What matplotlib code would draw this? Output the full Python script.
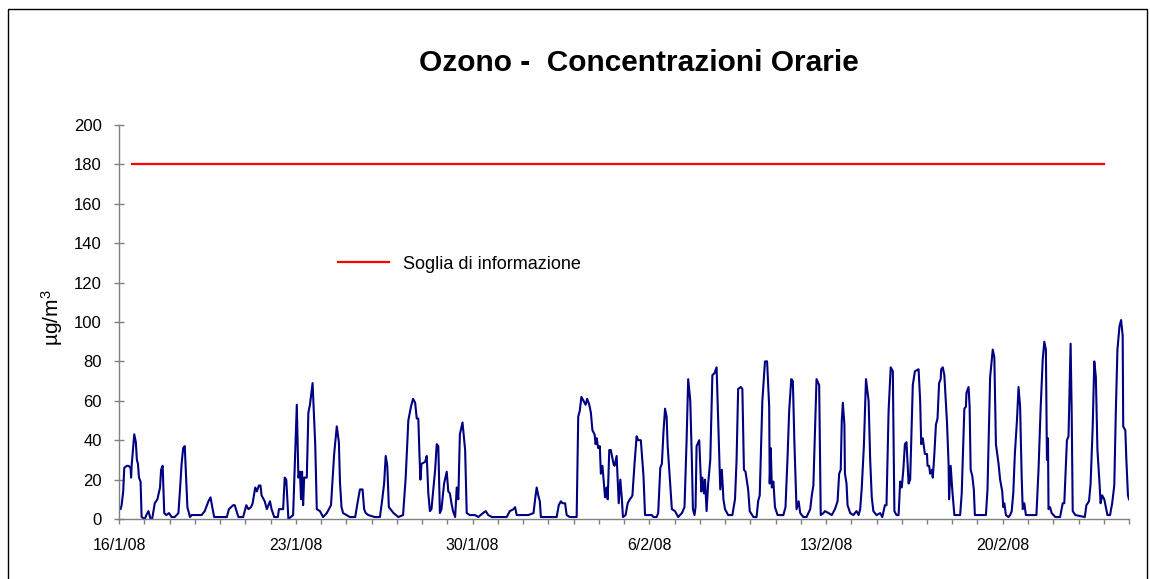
import datetime as dt
import matplotlib
matplotlib.use('agg')
import matplotlib.pyplot as plt
from matplotlib.patches import Rectangle

plt.rcParams['font.family'] = ['Liberation Sans', 'DejaVu Sans']
plt.rcParams['mathtext.fontset'] = 'custom'
plt.rcParams['mathtext.rm'] = 'Liberation Sans'
plt.rcParams['mathtext.it'] = 'Liberation Sans'

# hourly ozone readings, x = hours since 16/1/08 00:00
ore = [0, 1.5, 2.5, 4, 5, 7.5, 9, 11, 11.5, 12, 13.5, 14.5, 16, 17, 18, 19, 20.5, 21.5,
       24.5, 26, 28, 30, 31.5, 34, 36.5, 39, 40, 41.5, 43, 45, 47.5, 50, 53, 56.5, 58,
       59.5, 61, 62.5, 63.5, 65, 67.5, 69, 78.5, 81.5, 85, 87, 89, 90.5, 102.5, 104.5,
       108.5, 110, 113.5, 118, 120, 121, 123, 125.5, 127, 129.5, 131, 133, 134.5, 135.5,
       138.5, 140.5, 143.5, 145, 147.5, 151, 152, 156, 157.5, 159, 161,
       165.5, 169, 170.5, 172, 173, 174, 175, 176, 178.5, 180, 181.5, 184, 186.5, 188,
       191, 194, 197.5, 201.5, 204.5, 207, 209, 210, 211.5, 213, 219.5, 224.5, 227, 229,
       231.5, 233, 234.5, 237, 243, 248, 250, 252, 253.5, 255, 256.5, 261, 265.5, 270,
       272.5, 275, 277.5, 279.5, 281.5, 283, 284.5, 285.5, 286.5, 287.5, 291, 292.5, 294,
       295.5, 297, 300.5, 302, 303.5, 305, 306.5, 309, 311.5, 313, 314.5, 316, 317.5, 319.5,
       321, 322.5, 324, 326.5, 329, 330.5, 333.5, 338.5, 341.5, 346, 348.5, 351, 354.5,
       368.5, 371.5, 375, 376.5, 378, 384.5, 389, 394, 395.5, 397, 398.5, 400, 401, 416,
       418, 420, 421.5, 424, 425.5, 428.5, 435, 436.5, 438, 439.5, 441.5, 443.5, 445, 447,
       448.5, 450, 452, 453, 454, 455.5, 457, 458, 459.5, 462, 463.5, 464.5, 466, 467.5,
       470, 471, 473, 475, 476.5, 478, 479, 481.5, 483.5, 485.5,
       487, 488, 490, 492, 493.5, 496, 498.5, 500, 506.5, 508, 511, 512.5, 514.5, 516,
       517.5, 519, 520.5, 521.5, 524, 525.5, 528.5, 531.5, 535, 537.5, 539.5, 541, 543,
       544.5, 545.5, 547, 548, 549, 551.5, 552.5, 553.5, 554.5, 556, 557, 558.5, 560, 562,
       564, 566, 568, 569.5, 571.5, 573, 574.5, 576, 579, 583, 585.5, 587, 588.5, 591,
       592.5, 594, 595.5, 598, 599.5, 603, 606, 607.5, 609, 611.5, 614, 616, 618, 618.5,
       619.5, 620.5, 622, 623.5, 626, 631.5, 633.5, 635.5, 637, 639, 640.5, 642, 643, 644,
       646, 647.5,
       650.5, 653.5, 657, 658.5, 660, 663, 665.5, 667, 669.5, 671, 674.5, 677.5, 680.5,
       683, 684.5, 686, 687, 688, 689.5, 690, 691.5, 692.5, 695, 698, 701, 703, 704.5, 706,
       708, 710, 712.5, 714, 715.5, 717, 720, 723.5, 725.5, 728, 729.5, 731.5, 733.5,
       735.5, 737, 739, 741, 742.5, 744, 745.5, 747, 748.5, 750.5, 752, 753.5, 754.5,
       756.5, 760, 761.5, 762.5, 764, 766, 768, 768.5, 770, 771, 772.5, 773.5, 775, 776.5,
       778, 779.5, 781, 781.5, 783, 784.5, 787, 788.5, 789, 790.5, 792, 794, 799.5,
       801, 802.5, 803.5, 805, 805.5, 807.5, 808.5, 809.5, 811, 812.5, 813.5, 824, 825.5,
       828, 830.5, 832, 833.5, 836, 837.5, 839.5, 840.5, 841.5, 843, 845.5, 847, 848.5,
       850, 851.5, 853.5, 855, 856.5, 858, 859, 860.5, 862, 864.5, 872, 874, 876, 878,
       879.5, 881, 882, 883, 883.5, 885, 886.5, 890, 894.5, 897, 898.5, 901, 902.5, 904.5,
       905.5, 906.5, 909, 918, 919.5, 922, 923.5, 925.5, 927, 928.5, 930, 932, 933, 934.5,
       936.5, 938, 939.5, 942, 944, 946, 947.5, 949, 951, 952.5, 954, 954.5, 956.5, 957.5,
       959, 960]
ozono = [6, 5, 7, 14, 26, 27, 27, 26, 21, 27, 37, 43, 39, 30, 28, 21, 19, 1,
         0, 2, 4, 0, 0, 8, 10, 16, 25, 27, 3, 2, 3, 1, 1, 3, 15,
         28, 36, 37, 25, 6, 1, 2, 2, 4, 9, 11, 5, 1, 1, 5,
         7, 7, 1, 1, 5, 7, 5, 6, 8, 16, 14, 17, 17, 12,
         9, 5, 9, 5, 1, 1, 5, 5, 21, 20, 0,
         2, 58, 21, 24, 10, 24, 7, 21, 21, 54, 58, 69, 38, 5,
         4, 1, 3, 7, 33, 47, 39, 19, 6, 3, 1, 1, 9, 15,
         15, 5, 3, 2, 1, 1, 9, 18, 32, 27, 6, 3, 1, 2,
         21, 50, 57, 61, 59, 51, 51, 34, 20, 28, 29, 32, 13,
         4, 5, 25, 38, 37, 3, 5, 18, 24, 14, 13, 8, 4, 1,
         16, 10, 43, 49, 35, 3, 2, 2, 1, 3, 4, 2, 1,
         1, 4, 5, 6, 2, 2, 2, 3, 10, 16, 12, 9, 1, 1,
         7, 9, 8, 8, 2, 1, 1, 52, 55, 62, 60, 58, 61, 58,
         54, 45, 43, 38, 41, 36, 37, 23, 27, 11, 16, 10, 35, 35,
         28, 27, 32, 8, 20, 10, 1, 2, 8, 10,
         11, 12, 28, 42, 40, 40, 22, 2, 2, 1, 1, 3, 26, 28,
         44, 56, 52, 37, 17, 5, 4, 1, 3, 6, 40, 71, 60,
         30, 5, 2, 6, 37, 40, 27, 14, 21, 13, 20, 4, 18, 30,
         73, 74, 77, 50, 15, 25, 10, 5, 2, 2, 10, 30, 66, 67,
         66, 25, 24, 15, 4, 1, 1, 9, 12, 60, 80, 80, 57, 18,
         36, 16, 19, 6, 2, 2, 6, 32, 55, 71, 70, 38, 21, 5,
         9, 3,
         1, 1, 5, 12, 17, 71, 68, 2, 3, 4, 3, 2, 5,
         9, 23, 25, 50, 59, 48, 23, 18, 7, 3, 2, 4, 2, 5, 16,
         37, 71, 60, 30, 11, 4, 2, 3, 1, 7, 7, 55, 77,
         75, 4, 2, 2, 19, 16, 25, 38, 39, 18, 20, 48, 68,
         75, 76, 60, 38, 41, 33, 33, 27, 27, 23, 25, 21, 33, 48,
         51, 69, 71, 76, 77, 73, 49, 28, 10, 27, 15, 2, 2,
         13, 38, 56, 57, 64, 67, 57, 25, 22, 15, 2, 2, 15,
         72, 86, 82, 38, 28, 20, 14, 6, 8, 2, 1, 2, 4,
         13, 33, 50, 67, 57, 21, 5, 8, 2, 2, 2, 25, 56, 81,
         90, 86, 30, 41, 5, 6, 3, 1, 1, 8, 8, 40, 42, 89,
         55, 4, 2, 1, 7, 9, 18, 47, 80, 72, 35, 18, 8, 12,
         10, 6, 2, 2, 8, 17, 55, 86, 98, 101, 93, 47, 45, 30,
         12, 10]

# information threshold
soglia_ore = [12, 936]
soglia = [180, 180]

inizio = dt.date(2008, 1, 16)
giorni = 40
etichette = []
for g in range(giorni + 1):
    d = inizio + dt.timedelta(days=g)
    etichette.append('%d/%d/%s' % (d.day, d.month, d.strftime('%y')) if g % 7 == 0 else '')

fig = plt.figure(figsize=(11.5, 5.79), dpi=100)
ax = fig.add_axes([119/1150, 60/579, 1010/1150, 394/579])

ax.plot(soglia_ore, soglia, color='#ff0000', lw=1.6, label='Soglia di informazione')
ax.plot(ore, ozono, color='#000080', lw=1.5)

ax.set_xlim(0, giorni * 24)
ax.set_ylim(0, 200)
ax.set_yticks(range(0, 201, 20))
ax.set_xticks([g * 24 for g in range(giorni + 1)])
ax.set_xticklabels(etichette)

for s in ['top', 'right']:
    ax.spines[s].set_visible(False)
for s in ['left', 'bottom']:
    ax.spines[s].set_color('#808080')
    ax.spines[s].set_linewidth(1)
ax.tick_params(axis='y', direction='inout', length=6.5, width=1, color='#808080',
               labelsize=12, pad=9)
ax.tick_params(axis='x', direction='out', length=3.6, width=1, color='#808080',
               labelsize=11.5, pad=10)

fig.text(52/1150, 1 - 318/579, 'µg/m$^{3}$', rotation=90, ha='center', va='center',
         fontsize=15)
fig.text(639/1150, 1 - 63/579, 'Ozono -  Concentrazioni Orarie', ha='center', va='center',
         fontsize=21.5, fontweight='bold')

ax.legend(loc='center left', bbox_to_anchor=(338/1150, 1 - 264/579),
          bbox_transform=fig.transFigure, frameon=False, fontsize=13,
          handlelength=2.8, handletextpad=0.8, borderpad=0, borderaxespad=0)

fig.patches.append(Rectangle((8/1150, -0.05), 1139/1150, 1.05 - 8.5/579, transform=fig.transFigure,
                             fill=False, ec='black', lw=1, clip_on=False))

plt.savefig('out.png', dpi=100, facecolor='white')
